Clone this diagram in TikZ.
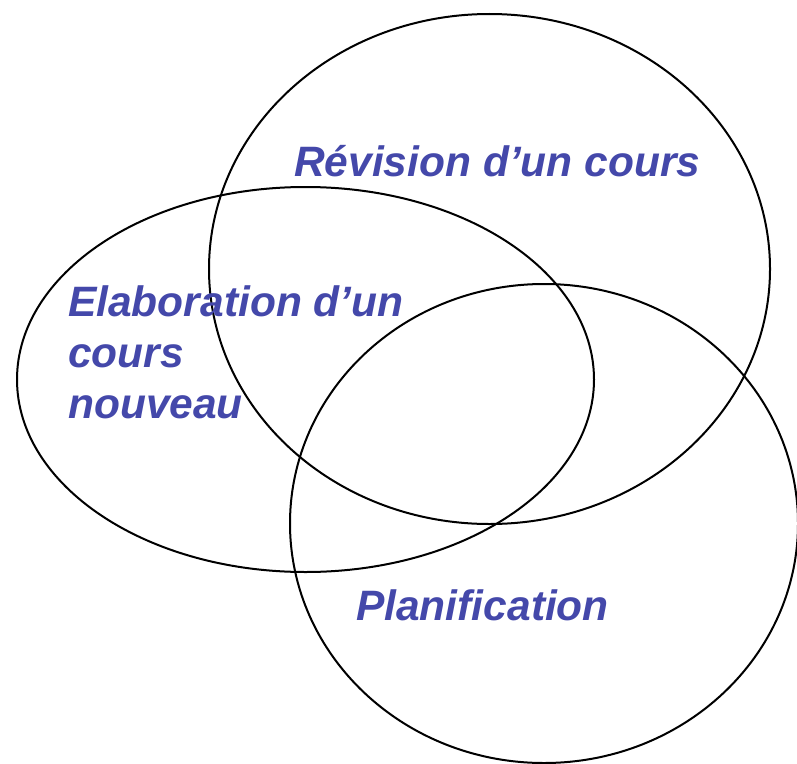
\documentclass[tikz,border=0pt]{standalone}
\usepackage{fontspec}
\setmainfont{Liberation Sans}
\usepackage{tikz}
\definecolor{labelblue}{RGB}{68,72,170}
\tikzset{
  zone/.style={line width=2bp, black},
  zonelabel/.style={text=labelblue, font=\fontsize{42.5bp}{51bp}\selectfont\bfseries\itshape, inner sep=0pt, anchor=base west, align=left}
}

\begin{document}
\begin{tikzpicture}[x=1bp, y=-1bp]
\useasboundingbox (0,0) rectangle (797,764);
\draw[zone] (489.5,269) ellipse [x radius=280.5, y radius=255];
\draw[zone] (305.5,379.5) ellipse [x radius=288.5, y radius=192.5];
\draw[zone] (544,523.5) ellipse [x radius=254, y radius=239.5];

\node[zonelabel] (revision) at (294,176) {Révision d’un cours};
\node[zonelabel] (elaboration) at (68,418) {Elaboration d’un\\cours\\nouveau};
\node[zonelabel] (planification) at (356,620) {Planification};
\end{tikzpicture}
\end{document}
